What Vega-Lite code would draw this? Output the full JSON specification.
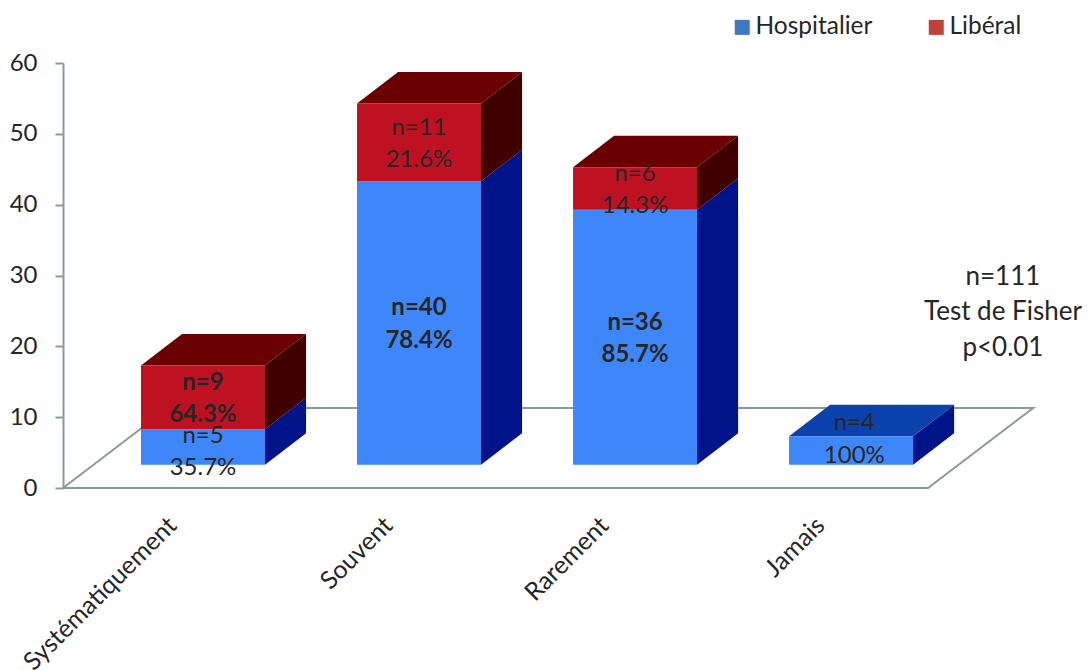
{
"$schema":"https://vega.github.io/schema/vega-lite/v6.json",
"autosize":"none",
"padding":{"left":63,"top":63,"right":0,"bottom":182},
"width":1027,"height":425,
"background":"white",
"config":{"view":{"stroke":null},"font":"Lato","text":{"font":"Lato"}},
"data":{"values":[
{"category":"Systématiquement","series":"Hospitalier","n":5,"pct":"35.7%"},
{"category":"Systématiquement","series":"Libéral","n":9,"pct":"64.3%"},
{"category":"Souvent","series":"Hospitalier","n":40,"pct":"78.4%"},
{"category":"Souvent","series":"Libéral","n":11,"pct":"21.6%"},
{"category":"Rarement","series":"Hospitalier","n":36,"pct":"85.7%"},
{"category":"Rarement","series":"Libéral","n":6,"pct":"14.3%"},
{"category":"Jamais","series":"Hospitalier","n":4,"pct":"100%"}
]},
"transform":[
{"calculate":"indexof(['Systématiquement','Souvent','Rarement','Jamais'],datum.category)","as":"idx"},
{"stack":"n","groupby":["category"],"sort":[{"field":"series","order":"ascending"}],"as":["y0","y1"]},
{"calculate":"datum.idx-0.287","as":"left"},
{"calculate":"datum.idx+0.287","as":"right"},
{"calculate":"3.3+datum.y0","as":"b0"},
{"calculate":"3.3+datum.y1","as":"b1"},
{"calculate":"'n='+datum.n+'\\n'+datum.pct","as":"label"},
{"calculate":"datum.idx+(datum.category=='Jamais'?0.015:0)","as":"labelX"},
{"calculate":"(datum.b0+datum.b1)/2+2.26+(datum.category=='Jamais'?1.55:datum.n==5?-0.7:-0.2)","as":"labelAt"}
],
"layer":[
{"data":{"values":[
{"corner":1,"fx":-0.648,"fy":0},
{"corner":2,"fx":3.356,"fy":0},
{"corner":3,"fx":3.843,"fy":11.3},
{"corner":4,"fx":-0.162,"fy":11.3},
{"corner":5,"fx":-0.648,"fy":0}
]},
"transform":[],
"mark":{"type":"line","stroke":"#8A9C98","strokeWidth":2,"clip":false},
"encoding":{
"x":{"field":"fx","type":"quantitative","scale":{"domain":[-0.648,4.106],"nice":false,"zero":false},
"axis":{"title":null,"values":[0,1,2,3],"labelExpr":"['Systématiquement','Souvent','Rarement','Jamais'][datum.value]","labelAngle":-45,"labelAlign":"right","labelBaseline":"middle","labelFontSize":25,"labelColor":"#262626","labelFont":"Lato","labelPadding":33,"labelOffset":-31,"labelLimit":400,"domain":false,"ticks":false,"grid":false,"labelOverlap":false,"labelBound":false,"labelFlush":false}},
"y":{"field":"fy","type":"quantitative","scale":{"domain":[0,60],"nice":false},
"axis":{"title":null,"values":[0,10,20,30,40,50,60],"domainColor":"#8A9C98","domainWidth":2,"tickColor":"#8A9C98","tickWidth":2,"tickSize":8,"labelFontSize":24,"labelColor":"#262626","labelFont":"Lato","labelPadding":18,"grid":false}},
"order":{"field":"corner"}
}},
{"mark":{"type":"rect"},
"encoding":{
"x":{"field":"left","type":"quantitative"},
"x2":{"field":"left"},
"y":{"field":"b0","type":"quantitative"},
"y2":{"field":"b0"},
"fill":{"field":"series","type":"nominal","scale":{"domain":["Hospitalier","Libéral"],"range":["#3F78C0","#C0403C"]},
"legend":{"title":null,"orient":"none","legendX":667,"legendY":-48,"direction":"horizontal","columns":2,"symbolType":"square","symbolSize":225,"symbolStrokeWidth":0,"labelFontSize":24.5,"labelColor":"#262626","labelFont":"Lato","columnPadding":51,"labelOffset":1}}
}},
{"transform":[
{"calculate":"[0,1]","as":"k"},{"flatten":["k"]},
{"calculate":"datum.right+datum.k*0.19","as":"sx"},
{"calculate":"datum.b0+datum.k*4.44","as":"sl"},
{"calculate":"datum.b1+datum.k*4.44","as":"sh"},
{"calculate":"datum.category+datum.series","as":"key"}
],
"mark":{"type":"area","orient":"vertical"},
"encoding":{
"x":{"field":"sx","type":"quantitative"},
"y":{"field":"sh","type":"quantitative"},
"y2":{"field":"sl"},
"detail":{"field":"key"},
"fill":{"condition":{"test":"datum.series=='Libéral'","value":"#400000"},"value":"#001489"}
}},
{"transform":[
{"filter":"datum.series=='Libéral'||datum.category=='Jamais'"},
{"calculate":"[0,1,2,3]","as":"k"},{"flatten":["k"]},
{"calculate":"[datum.left,datum.left+0.19,datum.right,datum.right+0.19][datum.k]","as":"tx"},
{"calculate":"datum.b1+[0,0,0,4.44][datum.k]","as":"tl"},
{"calculate":"datum.b1+[0,4.44,4.44,4.44][datum.k]","as":"th"}
],
"mark":{"type":"area","orient":"vertical"},
"encoding":{
"x":{"field":"tx","type":"quantitative"},
"y":{"field":"th","type":"quantitative"},
"y2":{"field":"tl"},
"detail":{"field":"category"},
"fill":{"condition":{"test":"datum.series=='Libéral'","value":"#6B0000"},"value":"#0B42AE"}
}},
{"mark":{"type":"rect"},
"encoding":{
"x":{"field":"left","type":"quantitative"},
"x2":{"field":"right"},
"y":{"field":"b0","type":"quantitative"},
"y2":{"field":"b1"},
"fill":{"condition":{"test":"datum.series=='Libéral'","value":"#BE1222"},"value":"#3E87FB"}
}},
{"transform":[{"filter":"!(substring(datum.pct,0,2)>50&&datum.pct!='100%')"}],
"mark":{"type":"text","fontSize":24,"color":"#262626","lineBreak":"\n","lineHeight":32.5,"baseline":"middle","font":"Lato"},
"encoding":{
"x":{"field":"labelX","type":"quantitative"},
"y":{"field":"labelAt","type":"quantitative"},
"text":{"field":"label"}
}},
{"transform":[{"filter":"substring(datum.pct,0,2)>50&&datum.pct!='100%'"}],
"mark":{"type":"text","fontSize":24,"fontWeight":"bold","color":"#262626","lineBreak":"\n","lineHeight":32.5,"baseline":"middle","font":"Lato"},
"encoding":{
"x":{"field":"labelX","type":"quantitative"},
"y":{"field":"labelAt","type":"quantitative"},
"text":{"field":"label"}
}},
{"data":{"values":[{"note":"n=111\nTest de Fisher\np<0.01","nx":3.703,"ny":29.8}]},
"transform":[],
"mark":{"type":"text","fontSize":26,"color":"#262626","lineBreak":"\n","lineHeight":35.5,"baseline":"middle","font":"Lato"},
"encoding":{
"x":{"field":"nx","type":"quantitative"},
"y":{"field":"ny","type":"quantitative"},
"text":{"field":"note"}
}}
]
}
